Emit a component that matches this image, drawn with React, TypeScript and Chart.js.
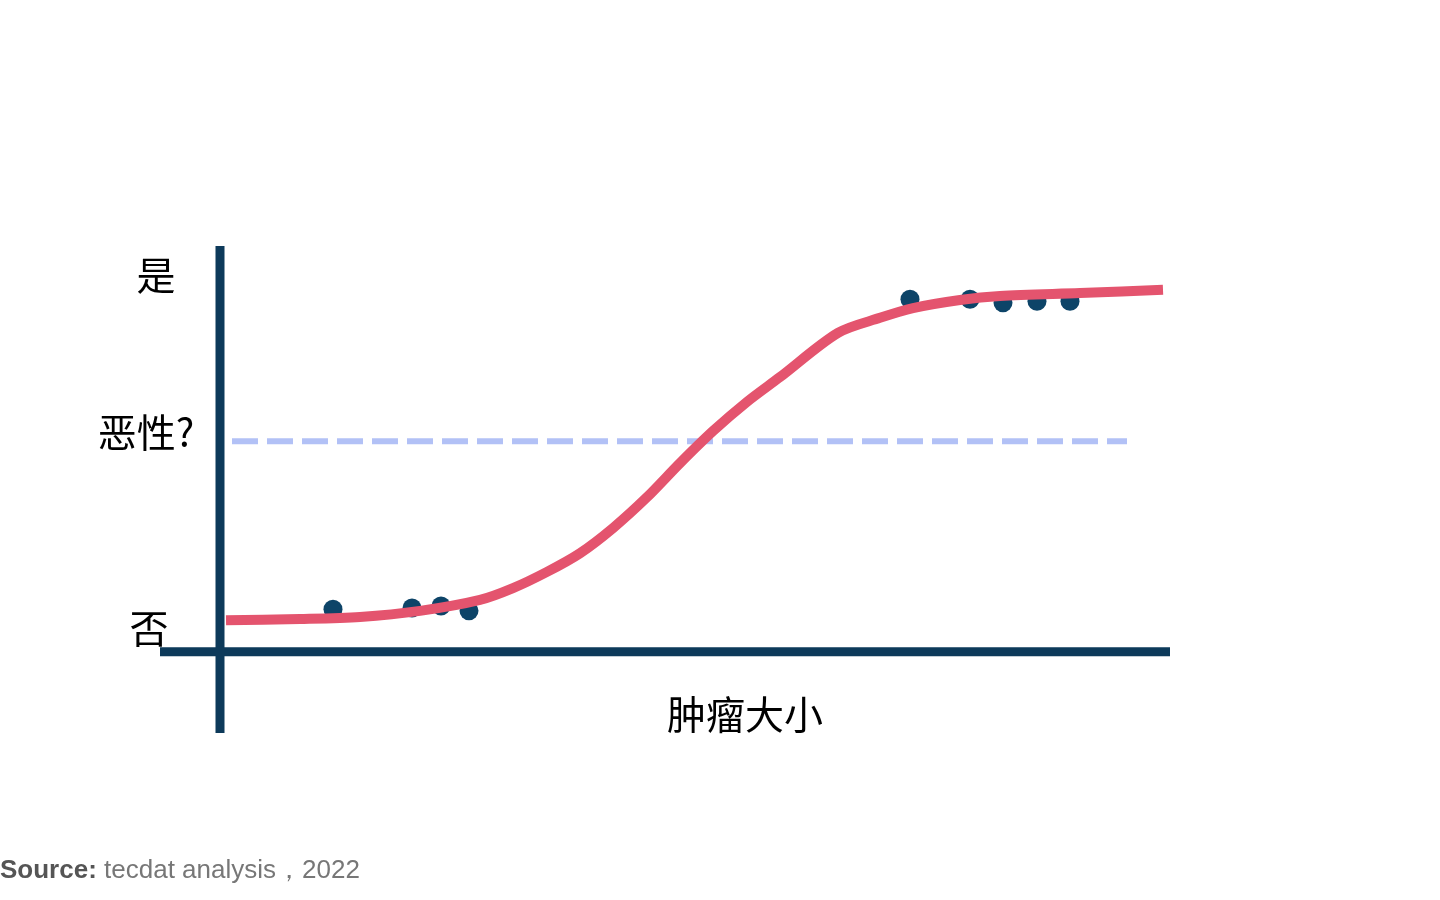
import React, { useEffect, useRef } from "react";
import { Chart, registerables } from "chart.js";

Chart.register(...registerables);

// Observed tumours: size (x) and malignant outcome (y)
const tumorSizes = [11.3, 19.2, 22.1, 24.9, 69.0, 75.0, 78.3, 81.7, 85.0];
const malignant = [0.105, 0.108, 0.113, 0.101, 0.869, 0.869, 0.86, 0.864, 0.864];

// Fitted logistic curve
const curveX = [0.6, 8, 14, 20, 26, 29.3, 32.7, 36, 39.3, 42.7, 46, 49.3, 52.7, 56, 61.8, 66, 69.3, 74, 78, 86, 94.3];
const curveY = [0.078, 0.081, 0.086, 0.101, 0.128, 0.157, 0.197, 0.243, 0.305, 0.381, 0.465, 0.544, 0.616, 0.677, 0.786, 0.823, 0.847, 0.867, 0.877, 0.884, 0.892];

// Decision threshold
const thresholdValue = 0.519;
const thresholdRange = [1.2, 90.7];

// Axis labels
const yLabels = ["是", "恶性?", "否"];
const xLabel = "肿瘤大小";
const sourceBold = "Source:";
const sourceText = " tecdat analysis，2022";

const AXIS_COLOR = "#0d3a5a";
const CURVE_COLOR = "#e4546e";
const DOT_COLOR = "#0d4468";
const DASH_COLOR = "#b2c1f6";
const CJK_FONT = '39px "Noto Sans CJK SC", sans-serif';

const decorPlugin = {
  id: "decor",
  beforeDatasetsDraw(chart: any) {
    const { ctx, chartArea, scales } = chart;
    const x0 = scales.x.getPixelForValue(0);
    const y0 = scales.y.getPixelForValue(0);
    ctx.save();
    ctx.strokeStyle = AXIS_COLOR;
    ctx.lineWidth = 9;
    ctx.lineCap = "butt";
    ctx.beginPath();
    ctx.moveTo(x0, chartArea.top);
    ctx.lineTo(x0, chartArea.bottom);
    ctx.moveTo(chartArea.left, y0);
    ctx.lineTo(chartArea.right, y0);
    ctx.stroke();

    ctx.fillStyle = "#000";
    ctx.font = CJK_FONT;
    ctx.textBaseline = "middle";
    ctx.textAlign = "center";
    ctx.fillText(yLabels[0], 156, 275);
    ctx.fillText(yLabels[1], 146, 432);
    ctx.fillText(yLabels[2], 149, 628);
    ctx.fillText(xLabel, 745, 714);
    ctx.restore();
  },
};

export default function App() {
  const ref = useRef<HTMLCanvasElement | null>(null);

  useEffect(() => {
    if (!ref.current) return;
    const chart = new Chart(ref.current, {
      type: "scatter",
      data: {
        datasets: [
          {
            type: "line",
            label: "curve",
            data: curveX.map((x, i) => ({ x, y: curveY[i] })),
            borderColor: CURVE_COLOR,
            borderWidth: 10,
            pointRadius: 0,
            tension: 0.3,
            fill: false,
            clip: false,
          } as any,
          {
            type: "scatter",
            label: "obs",
            data: tumorSizes.map((x, i) => ({ x, y: malignant[i] })),
            backgroundColor: DOT_COLOR,
            borderColor: DOT_COLOR,
            borderWidth: 0,
            pointRadius: 9.5,
            clip: false,
          } as any,
          {
            type: "line",
            label: "threshold",
            data: thresholdRange.map((x) => ({ x, y: thresholdValue })),
            borderColor: DASH_COLOR,
            borderWidth: 6,
            borderDash: [26, 9],
            pointRadius: 0,
            fill: false,
            clip: false,
          } as any,
        ],
      },
      options: {
        animation: false,
        responsive: false,
        maintainAspectRatio: false,
        layout: { padding: { left: 160, right: 270, top: 246, bottom: 167 } },
        plugins: { legend: { display: false }, tooltip: { enabled: false } },
        scales: {
          x: { type: "linear", min: -6, max: 95, display: false },
          y: { type: "linear", min: -0.2, max: 1.0, display: false },
        },
      },
      plugins: [decorPlugin],
    });
    return () => chart.destroy();
  }, []);

  return (
    <div style={{ position: "absolute", left: 0, top: 0, width: 1440, height: 900, background: "#fff" }}>
      <canvas ref={ref} width={1440} height={900} style={{ display: "block", width: 1440, height: 900 }} />
      <div
        style={{
          position: "absolute",
          left: 0,
          top: 853,
          fontFamily: '"Liberation Sans", Arial, sans-serif',
          fontSize: 26,
          lineHeight: "32px",
          color: "#777",
          whiteSpace: "nowrap",
        }}
      >
        <span style={{ color: "#555", fontWeight: "bold" }}>{sourceBold}</span>
        {sourceText}
      </div>
    </div>
  );
}
